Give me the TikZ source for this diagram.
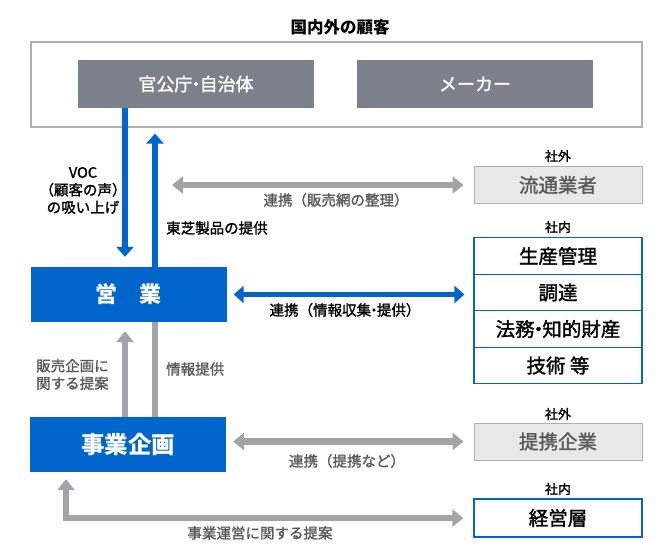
\documentclass[tikz,border=0pt]{standalone}
\usepackage{fontspec}
\setmainfont{Noto Sans CJK JP}[UprightFeatures={FakeBold=1.5}]
\usetikzlibrary{arrows.meta}
\definecolor{tblue}{HTML}{0066CC}
\definecolor{boxgray}{HTML}{7B808B}
\definecolor{arrgray}{HTML}{A3A3A8}
\definecolor{lightfill}{HTML}{E8E8E8}
\definecolor{linegray}{HTML}{B0B0B4}
\definecolor{textgray}{HTML}{5A5A5A}
\newcommand{\fsz}[1]{\fontsize{#1}{#1}\selectfont}
\newcommand{\ndot}{\kern-.3em・\kern-.3em}
\tikzstyle{custbox}=[fill=boxgray, text=white, inner sep=0pt, minimum width=236pt, minimum height=48pt, font=\fsz{18}]
\tikzstyle{mainbox}=[fill=tblue, text=white, inner sep=0pt, minimum width=196pt, minimum height=55pt, font=\bfseries\fsz{22}]
\tikzstyle{outbox}=[draw=linegray, fill=lightfill, text=textgray, line width=1pt, inner sep=0pt, minimum width=168pt, minimum height=37pt, font=\fsz{19.5}]
\tikzstyle{inbox}=[draw=tblue, fill=white, text=black, line width=1.2pt, inner sep=0pt, minimum width=168pt, minimum height=36.5pt, font=\fsz{19.5}]
\tikzstyle{tag}=[font=\fsz{13}, text=black]
\tikzstyle{lbl}=[font=\fsz{14.5}, text=black, inner sep=0pt]
\tikzstyle{glbl}=[lbl, text=textgray]
\tikzstyle{barrow}=[draw=tblue, line width=5.5pt, -{Triangle[width=17pt, length=10pt]}]
\tikzstyle{garrow}=[draw=arrgray, line width=6.5pt, -{Triangle[width=17pt, length=11pt]}]

\begin{document}
\begin{tikzpicture}[x=1pt, y=-1pt]
\useasboundingbox (0,0) rectangle (670,550);
% Customers
    \node[font=\bfseries\fsz{16.5}] (title) at (340,27) {国内外の顧客};
    \node[draw=linegray, line width=1.2pt, minimum width=611pt, minimum height=85pt] (kokyaku) at (336.5,84.5) {};
    \node[custbox] (kanko) at (196,84) {官公庁\ndot 自治体};
    \node[custbox] (maker) at (475,84) {メーカー};
% Sales and planning
    \node[mainbox] (eigyo) at (128.5,294.5) {営　業};
    \node[mainbox, font=\bfseries\fsz{23.5}] (kikaku) at (128,444.5) {事業企画};
% Partners
    \node[tag] (gai1) at (558,156) {社外};
    \node[outbox] (ryutsu) at (558,185) {流通業者};
    \node[tag] (nai1) at (558,227) {社内};
    \node[inbox] (seisan) at (558,256) {生産管理};
    \node[inbox] (chotatsu) at (558,292.5) {調達};
    \node[inbox] (homu) at (558,329) {法務\ndot 知的財産};
    \node[inbox] (gijutsu) at (558,365.5) {技術 等};
    \node[tag] (gai2) at (558,414) {社外};
    \node[outbox] (teikei) at (558,441.5) {提携企業};
    \node[tag] (nai2) at (558,489) {社内};
    \node[inbox, minimum height=38pt] (keiei) at (558,518) {経営層};
% Helper points
    \coordinate (voc) at (125,0);
    \coordinate (teikyo) at (155,0);
    \coordinate (hanbai) at (172,185);
    \coordinate (lcorner) at (66,518);
% Vertical arrows
    \draw[barrow, shorten >=10pt] (kanko.south -| voc) -- (eigyo.north -| voc);
    \draw[barrow, shorten >=6pt] (eigyo.north -| teikyo) -- (kokyaku.south -| teikyo);
    \draw[garrow, shorten >=9pt] (kikaku.north -| voc) -- (eigyo.south -| voc);
    \draw[garrow, -] (kikaku.north -| teikyo) -- (eigyo.south -| teikyo);
% Horizontal arrows
    \draw[garrow, {Triangle[width=17pt, length=11pt]}-{Triangle[width=17pt, length=11pt]}, shorten >=10pt] (hanbai) -- (ryutsu.west);
    \draw[barrow, {Triangle[width=17pt, length=10pt]}-{Triangle[width=17pt, length=10pt]}, shorten <=7pt, shorten >=9pt] (eigyo.east) -- (eigyo.east -| chotatsu.west);
    \draw[garrow, {Triangle[width=17pt, length=11pt]}-{Triangle[width=17pt, length=11pt]}, shorten <=7pt, shorten >=10pt] (kikaku.east |- teikei.west) -- (teikei.west);
    \draw[garrow, {Triangle[width=17pt, length=11pt]}-{Triangle[width=17pt, length=11pt]}, shorten <=7pt, shorten >=10pt] (kikaku.south -| lcorner) -- (lcorner) -- (keiei.west);
% Labels
    \node[lbl, align=center] (voclbl) at (83,190.5) {VOC\\[3pt]（顧客の声）\\[3pt]の吸い上げ};
    \node[lbl, anchor=west] (seihin) at (166,228) {東芝製品の提供};
    \node[glbl, anchor=west, align=left] (teian) at (36,374.5) {販売企画に\\[3pt]関する提案};
    \node[glbl, anchor=west] (johotk) at (166,369) {情報提供};
    \node[glbl] (renkei1) at (336,200) {連携（販売網の整理）};
    \node[lbl] (renkei2) at (345,310) {連携（情報収集\ndot 提供）};
    \node[glbl] (renkei3) at (347,461) {連携（提携など）};
    \node[glbl] (unei) at (260,533) {事業運営に関する提案};
\end{tikzpicture}
\end{document}
